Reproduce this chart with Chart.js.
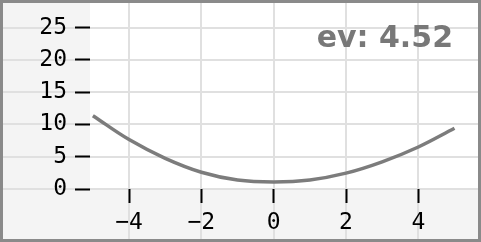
<!DOCTYPE html>
<html lang="en">
<head>
    <meta charset="UTF-8">
    <title>ev curve</title>
    <script src="https://cdn.jsdelivr.net/npm/chart.js"></script>
    <style>
        html, body {
            margin: 0;
            padding: 0;
            background: #ffffff;
        }
        #evChart {
            display: block;
        }
    </style>
</head>
<body>
    <canvas id="evChart" width="481" height="242"></canvas>

    <script>
        // values
        const xValues = [-5, -4, -3, -2, -1, 0, 1, 2, 3, 4, 5];
        const yValues = [11.35, 7.65, 4.75, 2.6, 1.4, 1.1, 1.4, 2.45, 4.2, 6.5, 9.4];
        const xTicks = [-4, -2, 0, 2, 4];
        const yTicks = [0, 5, 10, 15, 20, 25];
        const evLabel = 'ev: 4.52';

        const tickFont = { family: '"DejaVu Sans Mono", monospace', size: 23 };

        // no extra room for half labels at the ends of the axes
        function noPadding(scale) {
            scale.paddingTop = 0;
            scale.paddingBottom = 0;
            scale.paddingLeft = 0;
            scale.paddingRight = 0;
        }

        // light background, white plot area, grid lines running into the margins
        const framePlugin = {
            id: 'frame',
            beforeDraw(chart) {
                const { ctx, chartArea: a, scales } = chart;
                ctx.save();
                ctx.fillStyle = '#f4f4f4';
                ctx.fillRect(0, 0, chart.width, chart.height);
                ctx.fillStyle = '#ffffff';
                ctx.fillRect(a.left, a.top, a.right - a.left, a.bottom - a.top);

                ctx.strokeStyle = '#e0e0e0';
                ctx.lineWidth = 2;
                yTicks.forEach(v => {
                    const y = Math.round(scales.y.getPixelForValue(v));
                    ctx.beginPath();
                    ctx.moveTo(0, y);
                    ctx.lineTo(chart.width, y);
                    ctx.stroke();
                });
                xTicks.forEach(v => {
                    const x = Math.round(scales.x.getPixelForValue(v));
                    ctx.beginPath();
                    ctx.moveTo(x, 0);
                    ctx.lineTo(x, chart.height);
                    ctx.stroke();
                });
                ctx.restore();
            },
            afterDraw(chart) {
                const { ctx } = chart;
                ctx.save();
                ctx.font = 'bold 30px "DejaVu Sans", sans-serif';
                ctx.fillStyle = '#787878';
                ctx.textAlign = 'right';
                ctx.textBaseline = 'alphabetic';
                ctx.fillText(evLabel, 453, 47);

                ctx.strokeStyle = '#8a8a8a';
                ctx.lineWidth = 3;
                ctx.strokeRect(1.5, 1.5, chart.width - 3, chart.height - 3);
                ctx.restore();
            }
        };

        const points = xValues.map((x, i) => ({ x: x, y: yValues[i] }));

        const ctx = document.getElementById('evChart').getContext('2d');
        const evChart = new Chart(ctx, {
            type: 'line',
            data: {
                datasets: [{
                    data: points,
                    borderColor: '#7c7c7c',
                    borderWidth: 3.5,
                    pointRadius: 0,
                    tension: 0.4,
                    fill: false
                }]
            },
            options: {
                responsive: false,
                animation: false,
                devicePixelRatio: 1,
                layout: { padding: { left: 2, top: 3, right: 3, bottom: 3 } },
                plugins: {
                    legend: { display: false },
                    tooltip: { enabled: false }
                },
                scales: {
                    x: {
                        type: 'linear',
                        min: -5.08,
                        max: 5.65,
                        afterFit: scale => { scale.height = 50; noPadding(scale); },
                        afterBuildTicks: scale => { scale.ticks = xTicks.map(v => ({ value: v })); },
                        border: { display: false },
                        grid: {
                            drawOnChartArea: false,
                            drawTicks: true,
                            tickLength: 14,
                            tickWidth: 2,
                            tickColor: '#000000'
                        },
                        ticks: {
                            font: tickFont,
                            color: '#000000',
                            padding: 6,
                            maxRotation: 0,
                            callback: v => String(v).replace('-', '\u2212')
                        }
                    },
                    y: {
                        min: 0,
                        max: 28.8,
                        afterFit: scale => { scale.width = 88; noPadding(scale); },
                        afterBuildTicks: scale => { scale.ticks = yTicks.map(v => ({ value: v })); },
                        border: { display: false },
                        grid: {
                            drawOnChartArea: false,
                            drawTicks: true,
                            tickLength: 15,
                            tickWidth: 2,
                            tickColor: '#000000'
                        },
                        ticks: {
                            font: tickFont,
                            color: '#000000',
                            padding: 8
                        }
                    }
                }
            },
            plugins: [framePlugin]
        });
    </script>
</body>
</html>
